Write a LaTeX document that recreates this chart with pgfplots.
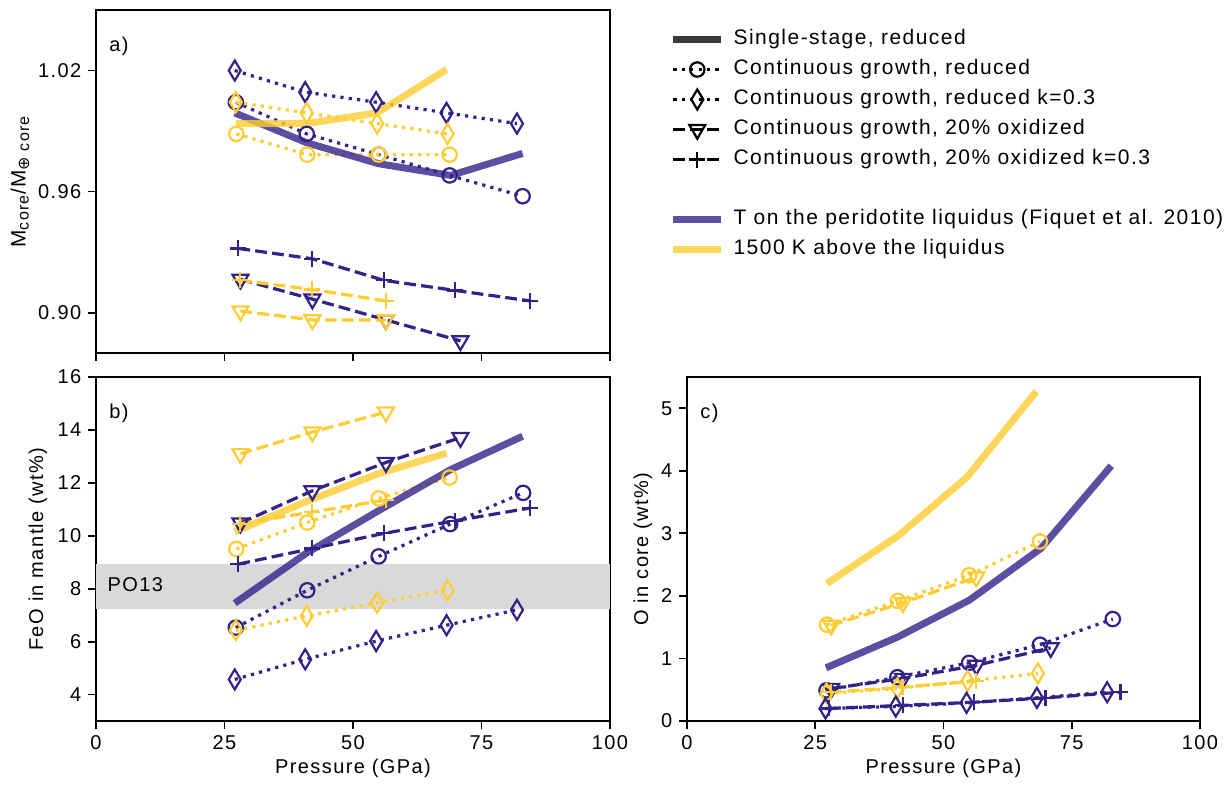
\documentclass[border=0pt]{standalone}
\usepackage{fontspec}
\setmainfont{Liberation Sans}[LetterSpace=7]
\newfontfamily\dejavu{DejaVu Sans}
\usepackage{pgfplots}
\pgfplotsset{compat=1.18}
\definecolor{ind}{HTML}{332288}
\definecolor{yel}{HTML}{FFCC33}
\definecolor{dgray}{HTML}{3A3A3A}
\newcommand\fsz{\fontsize{10}{12}\selectfont}
\newcommand\lsz{\fontsize{10.4}{12.5}\selectfont}
\newcommand\gsz{\fontsize{10.5}{12.6}\selectfont}
\pgfplotsset{
  base/.style={scale only axis, width=257pt, height=171.5pt, xmin=0, xmax=100,
    axis line style={line width=0.9pt},
    every tick/.style={black, line width=0.9pt},
    tick align=outside, major tick length=3.8pt,
    xtick pos=left, ytick pos=left,
    xtick={0,25,50,75,100},
    tick label style={font=\fsz}, label style={font=\fsz},
    /pgf/number format/assume math mode=true,
    legend image code/.code={\draw[mark repeat=2,mark phase=2,##1] plot coordinates {(0pt,0pt) (11.9pt,0pt) (23.8pt,0pt)};},
  },
  ser/.style={line width=1.6pt, mark options={solid, line width=1.1pt}},
  dotl/.style={ser, dash pattern=on 1.6pt off 2.6pt},
  dashl/.style={ser, dash pattern=on 5.9pt off 2.6pt},
  mcirc/.style={mark=o, mark size=3.6pt},
  mdia/.style={mark=diamond, mark size=5pt, mark options={solid, line width=1.1pt, xscale=0.8}},
  mtri/.style={mark=triangle, mark size=4.6pt, mark options={solid, line width=1.1pt, rotate=180}},
  mplus/.style={mark=+, mark size=4pt},
  thickl/.style={line width=3.5pt, draw opacity=0.8, no marks},
}
\begin{document}
\begin{tikzpicture}
\useasboundingbox (0,0) rectangle (614pt,393.5pt);
% ---------------- panel a ----------------
\begin{axis}[base, at={(48pt,217pt)}, anchor=south west,
  ymin=0.88, ymax=1.05, ytick={0.90,0.96,1.02}, yticklabels={0.90,0.96,1.02},
  xticklabels={},
  ylabel={M\textsubscript{\fontsize{8}{9}\selectfont core}/M\textsubscript{\fontsize{8}{9}\selectfont{\dejavu ⊕} core}},
  ylabel style={at={(axis description cs:-0.148,0.5)}, anchor=center, font=\lsz},
  legend style={at={(1.1167,0.946)}, anchor=north west, draw=none, fill=none,
    inner sep=0pt, outer sep=0pt, font=\gsz, row sep=4pt,
    nodes={inner sep=0pt, text height=8pt, text depth=3pt},
    /tikz/every odd column/.append style={column sep=4.5pt}},
  legend cell align=left]
\addlegendimage{dgray, line width=3.5pt, no marks}
\addlegendentry{Single-stage, reduced}
\addlegendimage{black, dotl, mcirc}
\addlegendentry{Continuous growth, reduced}
\addlegendimage{black, dotl, mdia}
\addlegendentry{Continuous growth, reduced k=0.3}
\addlegendimage{black, dashl, mtri}
\addlegendentry{Continuous growth, 20\% oxidized}
\addlegendimage{black, dashl, mplus}
\addlegendentry{Continuous growth, 20\% oxidized k=0.3}
\addlegendimage{empty legend}
\addlegendentry{\phantom{X}}
\addlegendimage{ind, line width=3.5pt, draw opacity=0.8, no marks}
\addlegendentry{T on the peridotite liquidus (Fiquet et al. 2010)}
\addlegendimage{yel, line width=3.5pt, draw opacity=0.8, no marks}
\addlegendentry{1500 K above the liquidus}
% data
\addplot[ind, dotl, mdia] coordinates {(27.0,1.020) (40.7,1.0093) (54.5,1.0043) (68.2,0.999) (81.9,0.9937)};
\addplot[ind, dotl, mcirc] coordinates {(27.2,1.0043) (41.0,0.9886) (55.0,0.9783) (68.8,0.968) (83.0,0.9577)};
\addplot[yel, dotl, mdia] coordinates {(27.2,1.0043) (41.0,0.999) (54.7,0.9937) (68.4,0.9886)};
\addplot[yel, dotl, mcirc] coordinates {(27.3,0.9886) (41.1,0.9783) (55.0,0.9783) (68.8,0.9783)};
\addplot[ind, dashl, mplus] coordinates {(27.7,0.9318) (42.1,0.9267) (56.0,0.916) (69.9,0.911) (84.5,0.9058)};
\addplot[ind, dashl, mtri] coordinates {(28.1,0.9165) (42.1,0.9067) (56.4,0.8964) (70.9,0.886)};
\addplot[yel, dashl, mplus] coordinates {(28.0,0.916) (42.0,0.9115) (56.4,0.9058)};
\addplot[yel, dashl, mtri] coordinates {(28.1,0.9008) (42.1,0.8964) (56.4,0.8964)};
\addplot[ind, thickl] coordinates {(27,0.999) (41,0.9842) (55,0.9738) (69,0.968) (83,0.9789)};
\addplot[yel, thickl] coordinates {(27.2,0.9937) (40.9,0.9937) (54.7,0.999) (68.2,1.0205)};
\node[anchor=north west, inner sep=0pt, font=\fsz] at ([xshift=6.5pt,yshift=-13.5pt]rel axis cs:0,1) {a)};
\end{axis}
% ---------------- panel b ----------------
\begin{axis}[base, at={(48pt,33pt)}, anchor=south west, height=172pt,
  ymin=3, ymax=16, ytick={4,6,8,10,12,14,16},
  xlabel={Pressure (GPa)},
  xlabel style={at={(axis description cs:0.5,0)}, anchor=center, yshift=-23.5pt},
  ylabel={FeO in mantle (wt\%)},
  ylabel style={at={(axis description cs:-0.113,0.5)}, anchor=center}]
\addplot[fill=gray!30, draw=none] coordinates {(0,7.25) (100,7.25) (100,8.95) (0,8.95)} -- cycle;
\addplot[yel, dashl, mtri] coordinates {(28.1,13.1) (42.1,13.92) (56.4,14.67)};
\addplot[ind, dashl, mtri] coordinates {(28.1,10.48) (42.1,11.7) (56.4,12.77) (70.9,13.71)};
\addplot[yel, dashl, mplus] coordinates {(28.0,10.45) (42.1,10.9) (56.4,11.35)};
\addplot[yel, dotl, mcirc] coordinates {(27.3,9.5) (41.1,10.5) (55.0,11.41) (68.8,12.2)};
\addplot[ind, dashl, mplus] coordinates {(27.7,8.93) (42.1,9.52) (56.0,10.09) (69.9,10.57) (84.5,11.05)};
\addplot[ind, dotl, mcirc] coordinates {(27.2,6.53) (41.1,7.94) (55.0,9.22) (68.9,10.44) (83.1,11.62)};
\addplot[yel, dotl, mdia] coordinates {(27.2,6.43) (41.0,6.97) (54.7,7.47) (68.4,7.94)};
\addplot[ind, dotl, mdia] coordinates {(27.0,4.57) (40.7,5.33) (54.5,6.02) (68.2,6.62) (81.9,7.2)};
\addplot[ind, thickl] coordinates {(27,7.45) (41,9.35) (55,10.95) (69,12.5) (83,13.76)};
\addplot[yel, thickl] coordinates {(27,10.15) (41,11.3) (55,12.35) (68.2,13.12)};
\node[anchor=west, inner sep=0pt, font=\fsz] at (axis cs:2.2,8.15) {PO13};
\node[anchor=north west, inner sep=0pt, font=\fsz] at ([xshift=6.5pt,yshift=-13.5pt]rel axis cs:0,1) {b)};
\end{axis}
% ---------------- panel c ----------------
\begin{axis}[base, at={(343.5pt,33pt)}, anchor=south west, width=256.5pt, height=172pt,
  ymin=0, ymax=5.5, ytick={0,1,2,3,4,5},
  xlabel={Pressure (GPa)},
  xlabel style={at={(axis description cs:0.5,0)}, anchor=center, yshift=-23.5pt},
  ylabel={O in core (wt\%)},
  ylabel style={at={(axis description cs:-0.086,0.5)}, anchor=center}]
\addplot[yel, dotl, mcirc] coordinates {(27.3,1.54) (41.1,1.92) (55.0,2.33) (68.8,2.87)};
\addplot[yel, dashl, mtri] coordinates {(28.1,1.53) (42.1,1.89) (56.4,2.3)};
\addplot[ind, dotl, mcirc] coordinates {(27.2,0.49) (41.0,0.70) (55.0,0.93) (68.8,1.22) (83.0,1.63)};
\addplot[ind, dashl, mtri] coordinates {(28.1,0.52) (42.1,0.68) (56.4,0.89) (70.9,1.17)};
\addplot[yel, dotl, mdia] coordinates {(27.2,0.44) (41.0,0.52) (54.7,0.64) (68.4,0.76)};
\addplot[yel, dashl, mplus] coordinates {(28.0,0.46) (42.0,0.54) (56.4,0.64)};
\addplot[ind, dotl, mdia] coordinates {(27.0,0.2) (40.7,0.23) (54.5,0.29) (68.2,0.37) (81.9,0.46)};
\addplot[ind, dashl, mplus] coordinates {(27.7,0.2) (42.1,0.25) (56.0,0.3) (69.9,0.37) (84.5,0.46)};
\addplot[ind, thickl] coordinates {(27.1,0.85) (41,1.34) (55,1.93) (69,2.76) (82.7,4.08)};
\addplot[yel, thickl] coordinates {(27.3,2.2) (41.3,2.97) (54.6,3.9) (68.1,5.27)};
\node[anchor=north west, inner sep=0pt, font=\fsz] at ([xshift=6.5pt,yshift=-13.5pt]rel axis cs:0,1) {c)};
\end{axis}
\end{tikzpicture}
\end{document}
